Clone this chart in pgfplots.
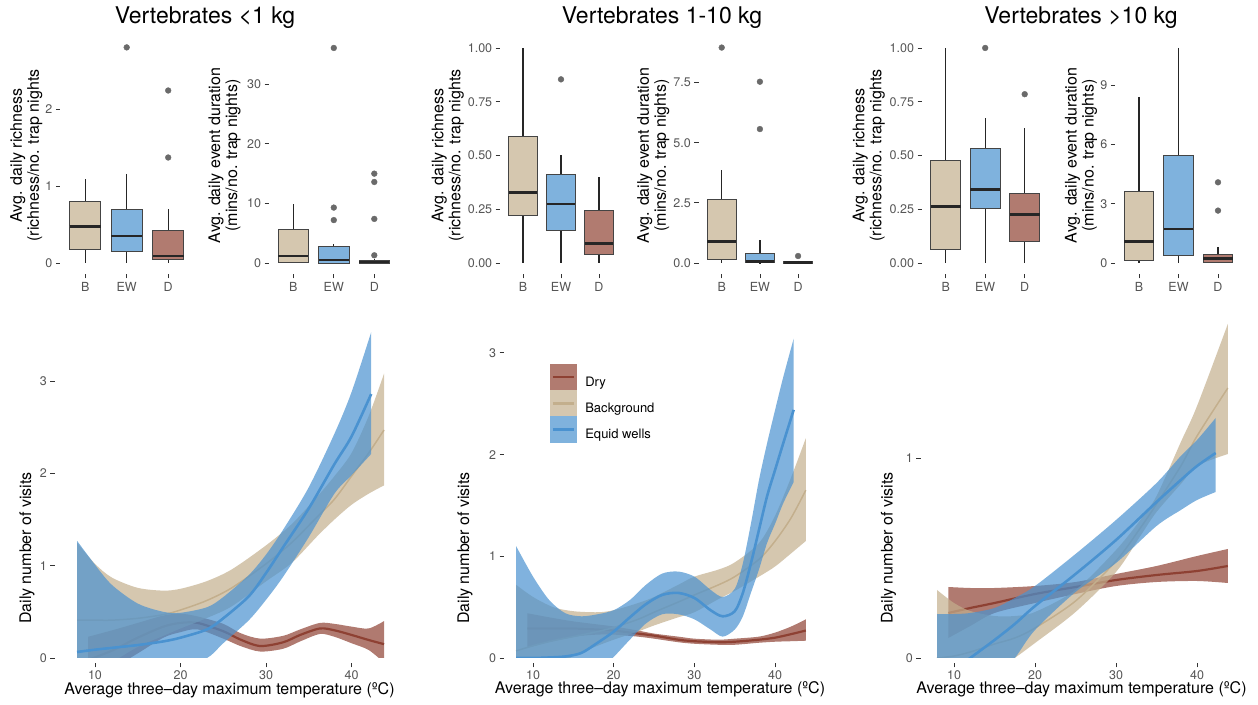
\documentclass[border=0pt]{standalone}
\usepackage{fontspec}
\setmainfont{TeX Gyre Heros}
\usepackage{pgfplots}
\usepackage{pgfplotstable}
\pgfplotsset{compat=1.18}
\usepgfplotslibrary{statistics}

\definecolor{bgfill}{HTML}{D5C7AF}
\definecolor{ewfill}{HTML}{7FB2DD}
\definecolor{dfill}{HTML}{B17B70}
\definecolor{bgline}{HTML}{C3AF8D}
\definecolor{ewline}{HTML}{4A92D0}
\definecolor{dline}{HTML}{8E4133}
\definecolor{tickgray}{HTML}{555555}
\definecolor{boxedge}{HTML}{444444}
\definecolor{outl}{HTML}{6A6A6A}

\pgfplotsset{
 gg/.style={
  scale only axis, anchor=south west,
  axis lines*=left, axis line style={draw=none},
  tick align=outside, major tick length=4.5bp,
  every tick/.style={draw=black!80, line width=0.8bp},
  ticklabel style={font=\fontsize{12.5bp}{14bp}\selectfont, text=tickgray},
  /pgf/number format/assume math mode=true,
  label style={font=\fontsize{16bp}{17bp}\selectfont},
 },
 ggbox/.style={gg, height=237bp, xmin=0.4, xmax=3.6, xtick={1,2,3}, xticklabels={B,EW,D},
  boxplot/draw direction=y,
  boxplot/box extend=0.75, boxplot/whisker extend=0,
  boxplot/every box/.style={draw=boxedge, line width=0.9bp},
  boxplot/every whisker/.style={draw=black!85, line width=1.2bp},
  boxplot/every median/.style={draw=black!85, line width=2.8bp},
  ylabel style={anchor=center, align=center},
 },
 ggline/.style={gg, xtick={10,20,30,40}, stack plots=y,
  xtick style={yshift=-5bp}, xticklabel style={yshift=-5bp},
  xlabel={Average three–day maximum temperature (ºC)},
  ylabel={Daily number of visits},
  xlabel style={anchor=base},
  ylabel style={anchor=base},
 },
 gghid/.style={scale only axis, anchor=south west, hide axis, stack plots=y},
 pA/.style={at={(54.8bp,47bp)}, width=344.6bp, height=328.6bp, xmin=5.3, xmax=45.6, ymin=0, ymax=3.56},
 pB/.style={at={(504bp,47bp)}, width=316.3bp, height=322.4bp, xmin=6.4, xmax=45.6, ymin=0, ymax=3.17},
 pC/.style={at={(920.8bp,47bp)}, width=321.6bp, height=336bp, xmin=5.9, xmax=45.6, ymin=0, ymax=1.68},
}
\newcommand{\gbox}[7]{\addplot[boxplot prepared={draw position=#1, lower whisker=#2, lower quartile=#3, median=#4, upper quartile=#5, upper whisker=#6}, fill=#7, draw=boxedge] coordinates {};}
\newcommand{\outl}{\addplot[only marks, mark=*, mark size=2.9bp, mark options={fill=outl, draw=outl}]}
% ribbon from a table x lo mid hi (stacked: lo, then hi-lo filled, then mid-hi as the line)
\newcommand{\ribbon}[3]{%
 \addplot[draw=none, smooth, forget plot] table[x=x, y=lo] {#1};
 \addplot[fill=#2, fill opacity=0.7, draw=none, smooth, forget plot] table[x=x, y expr=\thisrow{hi}-\thisrow{lo}] {#1} \closedcycle;
 \addplot[draw=#2, line width=#3, smooth, forget plot] table[x=x, y expr=\thisrow{mid}-\thisrow{hi}] {#1};
}

% ===== lower-left panel (<1 kg) =====
\pgfplotstableread{
x lo mid hi
9.2 -0.30 -0.02 0.23
12 -0.12 0.08 0.30
15 0.05 0.22 0.38
18 0.22 0.34 0.46
20 0.28 0.38 0.48
22 0.31 0.38 0.45
25 0.21 0.29 0.37
27 0.13 0.20 0.27
29.3 0.07 0.13 0.21
32 0.10 0.17 0.24
34 0.18 0.25 0.31
36.3 0.26 0.32 0.38
38 0.23 0.30 0.37
40 0.16 0.25 0.34
42 0.087 0.195 0.32
43.8 -0.05 0.15 0.40
}\aDry
\pgfplotstableread{
x lo mid hi
7.9 -0.45 0.41 1.25
10 -0.20 0.41 1.02
12 -0.05 0.41 0.87
15 0.12 0.43 0.76
18 0.24 0.47 0.73
20 0.32 0.52 0.75
23 0.43 0.62 0.83
26 0.56 0.76 0.96
30 0.83 1.02 1.22
33 1.03 1.25 1.45
36 1.32 1.53 1.75
38 1.50 1.72 1.97
40 1.66 1.97 2.22
42 1.78 2.22 2.62
43.8 1.87 2.47 3.08
}\aBg
\pgfplotstableread{
x lo mid hi
7.9 -1.00 0.065 1.27
10 -0.80 0.09 1.01
12 -0.55 0.11 0.79
15 -0.30 0.14 0.59
18 -0.15 0.18 0.50
20 -0.07 0.22 0.49
23.1 0.00 0.31 0.55
25 0.16 0.43 0.66
28 0.41 0.67 0.90
30 0.63 0.92 1.12
32 0.88 1.20 1.39
35 1.31 1.62 1.85
38 1.78 2.10 2.43
40 1.98 2.40 2.88
42.3 2.21 2.86 3.53
}\aEw

% ===== lower-middle panel (1-10 kg) =====
\pgfplotstableread{
x lo mid hi
9.3 0.10 0.29 0.44
12 0.16 0.29 0.40
15 0.21 0.29 0.36
18 0.23 0.28 0.33
20 0.23 0.27 0.31
23 0.21 0.24 0.27
25 0.19 0.22 0.24
28 0.155 0.18 0.21
30 0.14 0.165 0.19
33 0.13 0.155 0.18
35 0.13 0.16 0.19
38 0.15 0.18 0.21
40 0.16 0.20 0.25
42 0.165 0.235 0.31
43.8 0.17 0.27 0.38
}\bDry
\pgfplotstableread{
x lo mid hi
7.9 -0.55 0.07 0.72
10 -0.35 0.12 0.60
12.5 -0.12 0.17 0.50
15 0.02 0.21 0.46
18 0.12 0.26 0.45
20 0.18 0.30 0.47
23 0.26 0.38 0.54
25 0.32 0.45 0.60
28 0.40 0.55 0.72
30 0.45 0.62 0.80
33 0.58 0.72 0.87
35 0.66 0.80 0.94
38 0.80 0.97 1.13
40 0.90 1.15 1.40
42 1.03 1.38 1.78
43.8 1.15 1.65 2.16
}\bBg
\pgfplotstableread{
x lo mid hi
7.9 -1.10 0.00 1.10
10 -0.80 0.00 0.80
12 -0.55 0.005 0.57
14 -0.40 0.015 0.44
16 -0.30 0.05 0.41
18 -0.15 0.15 0.43
20 0.01 0.26 0.47
22 0.18 0.40 0.57
24 0.34 0.53 0.72
26 0.43 0.62 0.83
28 0.43 0.64 0.85
30 0.38 0.59 0.80
32 0.28 0.47 0.67
33.5 0.21 0.41 0.60
35 0.28 0.46 0.68
36 0.41 0.64 0.93
37 0.64 0.93 1.32
38 0.87 1.26 1.75
39 1.13 1.59 2.11
40 1.32 1.85 2.44
41 1.52 2.11 2.76
42.3 1.73 2.44 3.14
}\bEw

% ===== lower-right panel (>10 kg) =====
\pgfplotstableread{
x lo mid hi
9.3 0.10 0.225 0.355
12 0.16 0.25 0.35
15 0.225 0.275 0.35
20 0.275 0.32 0.36
25 0.32 0.355 0.38
30 0.36 0.39 0.42
35 0.38 0.415 0.46
40 0.385 0.435 0.51
43.8 0.375 0.46 0.545
}\cDry
\pgfplotstableread{
x lo mid hi
7.9 -0.35 0.00 0.34
10 -0.25 0.01 0.275
12 -0.17 0.03 0.235
15 -0.07 0.07 0.21
17.5 0.00 0.10 0.21
20 0.075 0.15 0.23
25 0.23 0.285 0.34
30 0.43 0.485 0.54
33 0.61 0.65 0.69
35 0.73 0.77 0.81
38 0.87 0.96 1.08
40 0.96 1.11 1.26
43.8 1.02 1.35 1.67
}\cBg
\pgfplotstableread{
x lo mid hi
7.9 -0.45 -0.10 0.22
10 -0.35 -0.06 0.22
12 -0.25 0.00 0.225
15 -0.10 0.09 0.25
17.5 0.00 0.17 0.30
20 0.14 0.26 0.36
25 0.33 0.42 0.52
30 0.475 0.59 0.69
35 0.66 0.78 0.875
38 0.74 0.89 1.01
40 0.79 0.96 1.09
42.3 0.83 1.025 1.20
}\cEw

\begin{document}
\begin{tikzpicture}
\useasboundingbox (0,0) rectangle (1258bp,705bp);

% titles
\node[anchor=base, font=\fontsize{23bp}{26bp}\selectfont] at (205bp,681bp) {Vertebrates <1 kg};
\node[anchor=base, font=\fontsize{23bp}{26bp}\selectfont] at (662bp,681bp) {Vertebrates 1-10 kg};
\node[anchor=base, font=\fontsize{23bp}{26bp}\selectfont] at (1081bp,681bp) {Vertebrates >10 kg};

% ===== P1 =====
\begin{axis}[ggbox, at={(60.3bp,431bp)}, width=132.8bp, ymin=-0.143, ymax=2.935,
 ytick={0,1,2}, yticklabels={0,1,2},
 ylabel={Avg. daily richness\\(richness/no. trap nights},
 ylabel style={at={([xshift=-34bp]axis description cs:0,0.5)}}]
\gbox{1}{0}{0.18}{0.47}{0.80}{1.09}{bgfill}
\gbox{2}{0}{0.15}{0.35}{0.69}{1.16}{ewfill}
\gbox{3}{0}{0.05}{0.09}{0.42}{0.70}{dfill}
\outl coordinates {(2,2.80) (3,2.24) (3,1.37)};
\end{axis}

% ===== P2 =====
\begin{axis}[ggbox, at={(269bp,431bp)}, width=129.6bp, ymin=-1.85, ymax=37.94,
 ytick={0,10,20,30}, yticklabels={0,10,20,30},
 ylabel={Avg. daily event duration\\(mins/no. trap nights)},
 ylabel style={at={([xshift=-44.5bp]axis description cs:0,0.5)}}]
\gbox{1}{0}{0.17}{1.17}{5.64}{9.9}{bgfill}
\gbox{2}{0}{0.0}{0.5}{2.7}{3.2}{ewfill}
\gbox{3}{0}{0.0}{0.15}{0.5}{0.6}{dfill}
\outl coordinates {(2,7.2) (2,9.3) (2,36.1) (3,1.29) (3,7.4) (3,13.6) (3,15.0)};
\end{axis}

% ===== P3 =====
\begin{axis}[ggbox, at={(500.2bp,431bp)}, width=121.6bp, ymin=-0.051, ymax=1.051,
 ytick={0,0.25,0.5,0.75,1}, yticklabels={0.00,0.25,0.50,0.75,1.00},
 ylabel={Avg. daily richness\\(richness/no. trap nights},
 ylabel style={at={([xshift=-52.5bp]axis description cs:0,0.5)}}]
\gbox{1}{0}{0.223}{0.327}{0.587}{1.00}{bgfill}
\gbox{2}{0}{0.153}{0.274}{0.411}{0.50}{ewfill}
\gbox{3}{0}{0.04}{0.09}{0.243}{0.399}{dfill}
\outl coordinates {(2,0.854)};
\end{axis}

% ===== P4 =====
\begin{axis}[ggbox, at={(698.8bp,431bp)}, width=122.2bp, ymin=-0.458, ymax=9.40,
 ytick={0,2.5,5,7.5}, yticklabels={0.0,2.5,5.0,7.5},
 ylabel={Avg. daily event duration\\(mins/no. trap nights)},
 ylabel style={at={([xshift=-45.5bp]axis description cs:0,0.5)}}]
\gbox{1}{0}{0.15}{0.90}{2.66}{3.87}{bgfill}
\gbox{2}{0}{0.02}{0.07}{0.40}{0.96}{ewfill}
\gbox{3}{0}{0.0}{0.03}{0.08}{0.10}{dfill}
\outl coordinates {(1,8.96) (2,7.54) (2,5.57) (3,0.29)};
\end{axis}

% ===== P5 =====
\begin{axis}[ggbox, at={(922bp,431bp)}, width=126.4bp, ymin=-0.051, ymax=1.051,
 ytick={0,0.25,0.5,0.75,1}, yticklabels={0.00,0.25,0.50,0.75,1.00},
 ylabel={Avg. daily richness\\(richness/no. trap nights},
 ylabel style={at={([xshift=-53.2bp]axis description cs:0,0.5)}}]
\gbox{1}{0}{0.062}{0.262}{0.476}{1.00}{bgfill}
\gbox{2}{0}{0.254}{0.343}{0.534}{0.673}{ewfill}
\gbox{3}{0}{0.102}{0.225}{0.322}{0.627}{dfill}
\outl coordinates {(2,1.00) (3,0.785)};
\end{axis}

% ===== P6 =====
\begin{axis}[ggbox, at={(1115.3bp,431bp)}, width=126.4bp, ymin=-0.556, ymax=11.43,
 ytick={0,3,6,9}, yticklabels={0,3,6,9},
 ylabel={Avg. daily event duration\\(mins/no. trap nights)},
 ylabel style={at={([xshift=-34.3bp]axis description cs:0,0.5)}}]
\gbox{1}{0}{0.12}{1.08}{3.64}{8.41}{bgfill}
\gbox{2}{0}{0.39}{1.72}{5.46}{10.89}{ewfill}
\gbox{3}{0}{0.05}{0.24}{0.44}{0.82}{dfill}
\outl coordinates {(3,2.65) (3,4.08)};
\end{axis}

% ===== P7 (three overlaid axes, one ribbon each) =====
\begin{axis}[ggline, pA, ytick={0,1,2,3},
 xlabel style={at={([xshift=174.7bp,yshift=-36bp]axis description cs:0,0)}},
 ylabel style={at={([xshift=-23.8bp,yshift=110bp]axis description cs:0,0)}}]
\ribbon{\aDry}{dline}{2.2bp}
\end{axis}
\begin{axis}[gghid, pA]
\ribbon{\aBg}{bgline}{1.5bp}
\end{axis}
\begin{axis}[gghid, pA]
\ribbon{\aEw}{ewline}{2.6bp}
\end{axis}

% ===== P8 =====
\begin{axis}[ggline, pB, ytick={0,1,2,3},
 xlabel style={at={([xshift=156bp,yshift=-36bp]axis description cs:0,0)}},
 ylabel style={at={([xshift=-35bp,yshift=110bp]axis description cs:0,0)}},
 legend style={at={([xshift=46bp,yshift=-28.4bp]axis description cs:0,1)}, anchor=north west,
   draw=none, fill=none, inner sep=0pt, row sep=0pt,
   font=\fontsize{13bp}{15bp}\selectfont, nodes={inner sep=0pt},
   /tikz/every odd column/.append style={column sep=9bp}},
 legend cell align=left]
\ribbon{\bDry}{dline}{2.2bp}
\addlegendimage{legend image code/.code={\fill[dfill] (0bp,-8bp) rectangle (25.7bp,17.7bp); \draw[dline, line width=2.5bp] (2.5bp,4.85bp) -- (23.2bp,4.85bp);}}
\addlegendentry{Dry}
\addlegendimage{legend image code/.code={\fill[bgfill] (0bp,-8bp) rectangle (25.7bp,17.7bp); \draw[bgline, line width=2.5bp] (2.5bp,4.85bp) -- (23.2bp,4.85bp);}}
\addlegendentry{Background}
\addlegendimage{legend image code/.code={\fill[ewfill] (0bp,-8bp) rectangle (25.7bp,17.7bp); \draw[ewline, line width=2.5bp] (2.5bp,4.85bp) -- (23.2bp,4.85bp);}}
\addlegendentry{Equid wells}
\end{axis}
\begin{axis}[gghid, pB]
\ribbon{\bBg}{bgline}{1.5bp}
\end{axis}
\begin{axis}[gghid, pB]
\ribbon{\bEw}{ewline}{2.6bp}
\end{axis}

% ===== P9 =====
\begin{axis}[ggline, pC, ytick={0,1},
 xlabel style={at={([xshift=160.7bp,yshift=-36bp]axis description cs:0,0)}},
 ylabel style={at={([xshift=-28.1bp,yshift=110bp]axis description cs:0,0)}}]
\ribbon{\cDry}{dline}{2.2bp}
\end{axis}
\begin{axis}[gghid, pC]
\ribbon{\cBg}{bgline}{1.5bp}
\end{axis}
\begin{axis}[gghid, pC]
\ribbon{\cEw}{ewline}{2.6bp}
\end{axis}
\end{tikzpicture}
\end{document}
